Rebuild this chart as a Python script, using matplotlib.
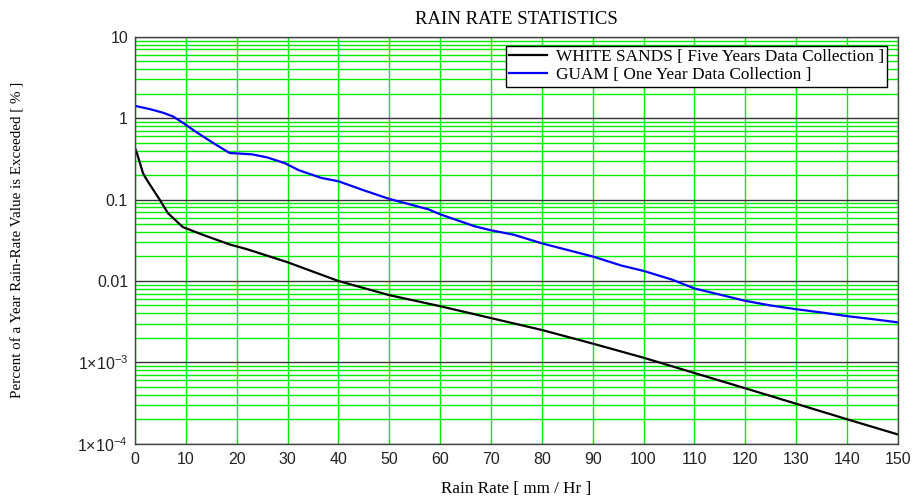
import matplotlib
matplotlib.use("Agg")
import matplotlib.pyplot as plt
from matplotlib.ticker import FixedLocator, LogLocator, NullFormatter

plt.rcParams["mathtext.fontset"] = "custom"
plt.rcParams["mathtext.rm"] = "Liberation Sans"
plt.rcParams["mathtext.it"] = "Liberation Sans:italic"

# rain rate (mm/hr) vs percent of year exceeded
guam_x = [0, 3, 5.5, 7.5, 9.4, 12, 15.3, 18.6, 23, 26, 29.5, 32.2, 36.6, 40, 45,
          50, 57.7, 60, 66.8, 70, 74.5, 80, 84, 90, 95.6, 100, 105.6, 110, 115,
          120, 125, 130, 135, 140, 145, 150]
guam_y = [1.42, 1.29, 1.17, 1.05, 0.88, 0.68, 0.50, 0.374, 0.36, 0.33, 0.28, 0.23,
          0.185, 0.168, 0.13, 0.102, 0.076, 0.066, 0.047, 0.042, 0.037, 0.029,
          0.025, 0.020, 0.0155, 0.0133, 0.0104, 0.0081, 0.0068, 0.0057, 0.0050,
          0.0045, 0.0041, 0.0037, 0.0034, 0.0031]

ws_x = [0, 0.4, 1.6, 2.3, 4.9, 6.5, 9.4, 13.3, 18.7, 22, 30, 36.4, 40, 50, 60, 70,
        80, 90, 100, 110, 120, 130, 140, 150]
ws_y = [0.43, 0.37, 0.21, 0.176, 0.099, 0.068, 0.046, 0.037, 0.028, 0.0246, 0.017,
        0.0121, 0.0100, 0.0067, 0.0049, 0.0035, 0.0025, 0.0017, 0.00114, 0.00074,
        0.00048, 0.00031, 0.00020, 0.00013]

x_ticks = list(range(0, 151, 10))
y_ticks = [1e-4, 1e-3, 1e-2, 1e-1, 1, 10]
y_labels = [r"$\mathregular{1{\times}10^{-4}}$", r"$\mathregular{1{\times}10^{-3}}$",
            "0.01", "0.1", "1", "10"]

serif = ["Liberation Serif", "DejaVu Serif"]
sans = ["Liberation Sans", "DejaVu Sans"]

fig = plt.figure(figsize=(9.18, 4.98), dpi=100)
ax = fig.add_axes([0.147, 0.109, 0.831, 0.817])

ax.set_yscale("log")
ax.set_xlim(0, 150)
ax.set_ylim(1e-4, 10)

ax.xaxis.set_major_locator(FixedLocator(x_ticks))
ax.yaxis.set_major_locator(FixedLocator(y_ticks))
ax.yaxis.set_minor_locator(LogLocator(base=10, subs=range(2, 10)))
ax.yaxis.set_minor_formatter(NullFormatter())
ax.set_yticklabels(y_labels)

ax.grid(True, which="minor", axis="y", color="#00ee00", lw=1.0)
ax.grid(True, which="major", axis="x", color="#00ee00", lw=1.0)
ax.grid(True, which="major", axis="y", color="#333333", lw=1.0)
ax.set_axisbelow(True)

ax.tick_params(which="both", length=0, labelsize=11.5)
ax.tick_params(axis="y", pad=5)
ax.tick_params(axis="x", pad=6)
for lab in ax.get_xticklabels() + ax.get_yticklabels():
    lab.set_family(sans)
    lab.set_color("#222222")

for s in ax.spines.values():
    s.set_color("#444444")
    s.set_linewidth(1.0)

ax.plot(ws_x, ws_y, color="black", lw=1.6,
        label="WHITE SANDS [ Five Years Data Collection ]")
ax.plot(guam_x, guam_y, color="#0000ff", lw=1.6,
        label="GUAM [ One Year Data Collection ]")

leg = ax.legend(loc="upper right", bbox_to_anchor=(0.986, 0.978),
                prop={"family": serif, "size": 12.4}, fancybox=False,
                framealpha=1, edgecolor="black", borderpad=0.2,
                handlelength=2.2, handletextpad=0.5, labelspacing=0.12,
                borderaxespad=0.0)
leg.get_frame().set_linewidth(1.0)

ax.set_title("RAIN RATE STATISTICS", family=serif, fontsize=13.5, pad=9)
ax.set_xlabel("Rain Rate [ mm / Hr ]", family=serif, fontsize=12.3, labelpad=10)
ax.set_ylabel("Percent of a Year Rain-Rate Value is Exceeded [ % ]",
              family=serif, fontsize=10.8)
ax.yaxis.set_label_coords(-0.145, 0.5)

fig.savefig("out.png", dpi=100, facecolor="white")
